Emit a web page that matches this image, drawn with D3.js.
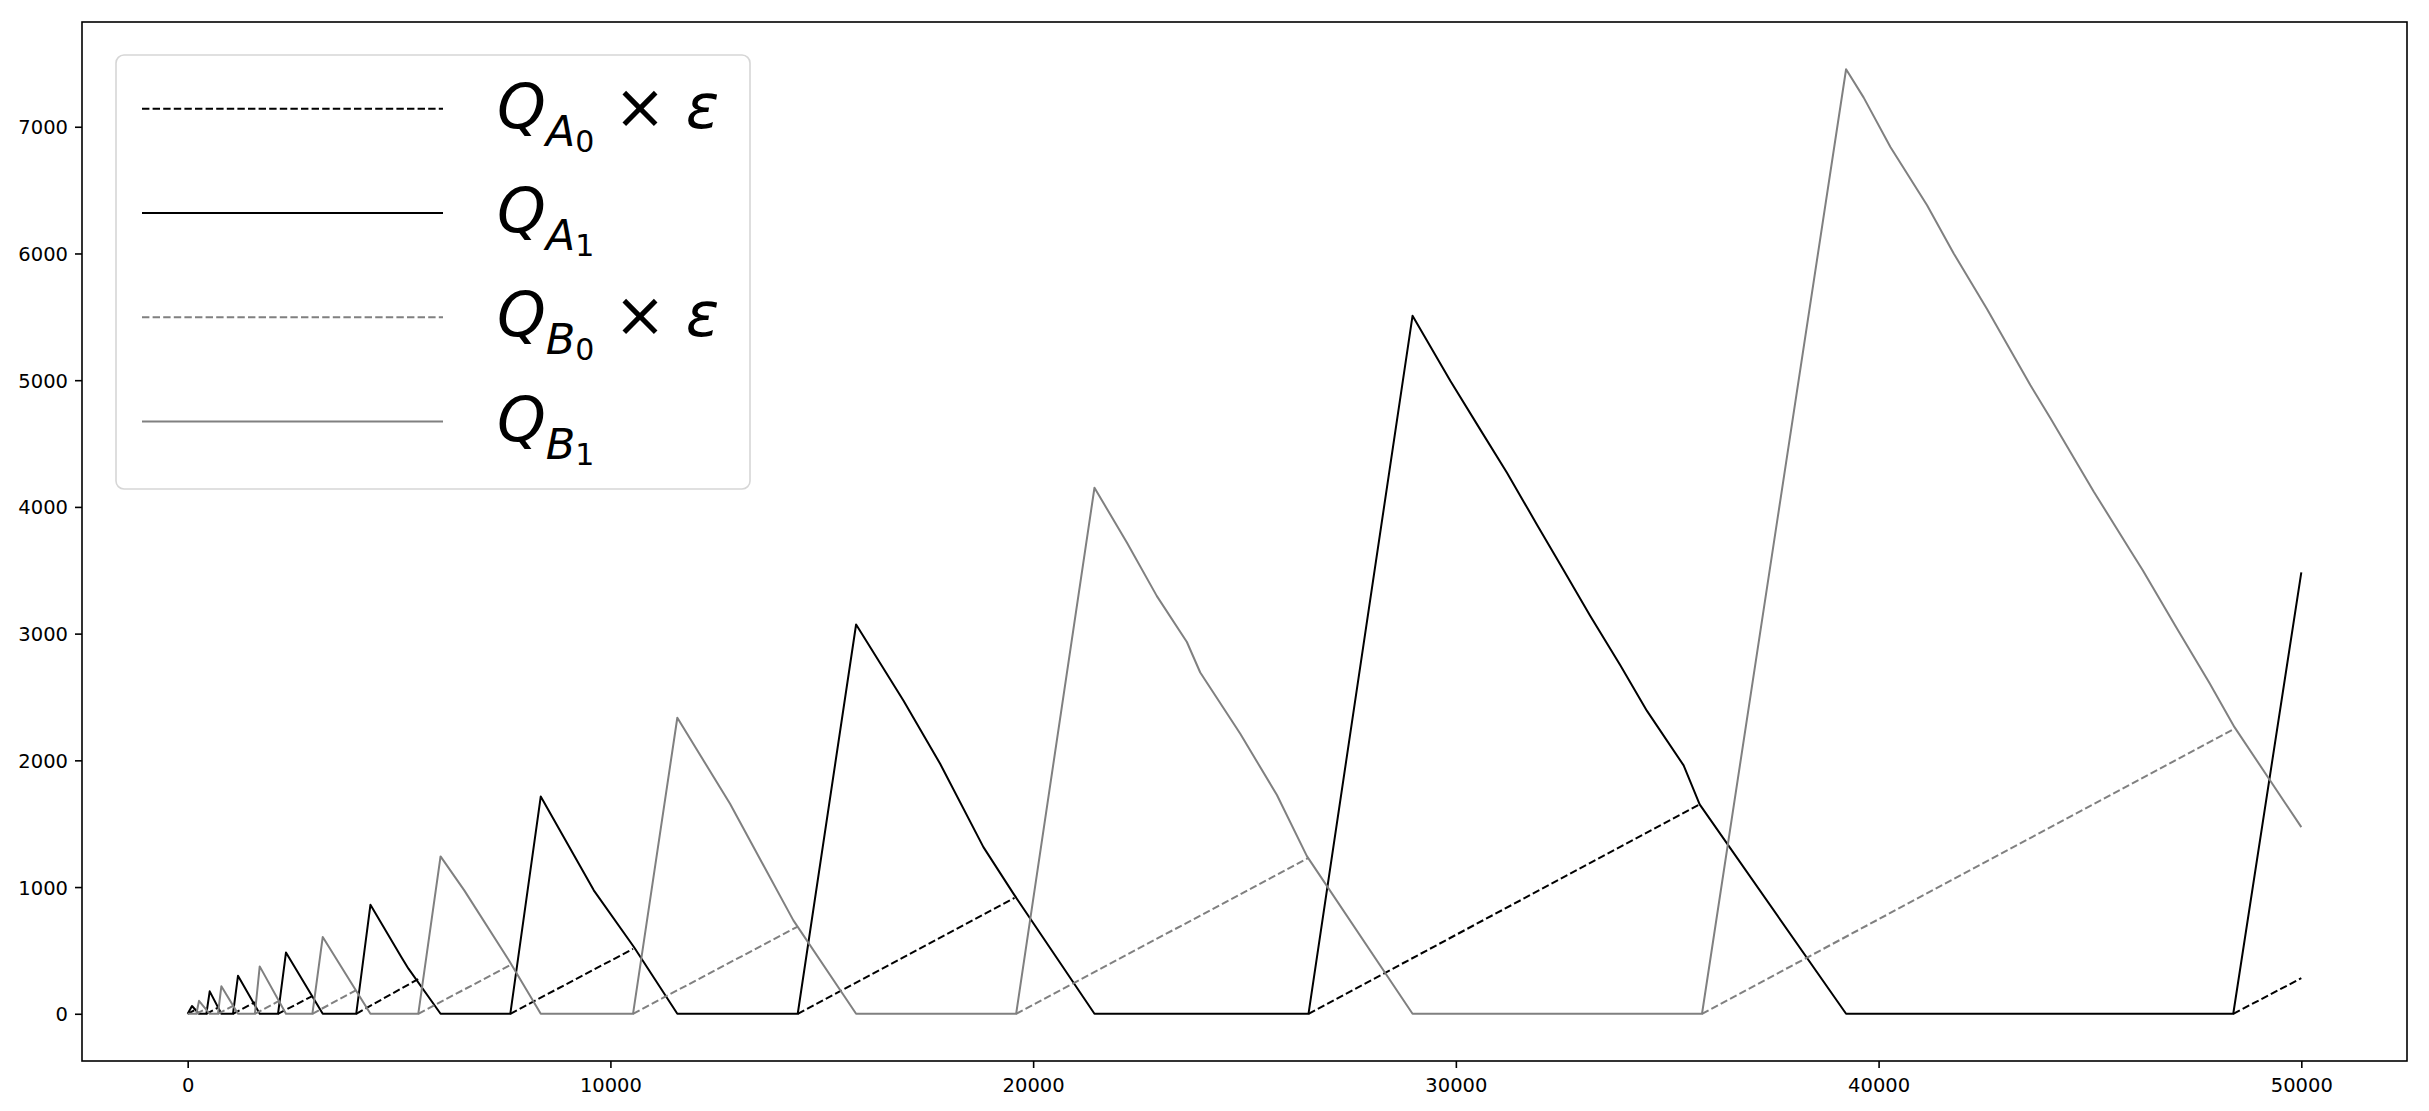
<!DOCTYPE html>
<html>
<head>
<meta charset="utf-8">
<script src="https://cdn.jsdelivr.net/npm/d3@7"></script>
<style>
  body { margin: 0; background: #fff; }
  svg text { font-family: "DejaVu Sans", sans-serif; }
</style>
</head>
<body>
<svg id="chart"></svg>
<script>
// values, [x, y]; null = gap in a dashed series
const qA1 = [
    [0, 0], [102, 61], [268, 0], [442, 0], [521, 177], [797, 0], [1072, 0], [1190, 300],
    [1704, 0], [2137, 0], [2325, 483], [3195, 0], [3987, 0], [4323, 860], [5064, 443],
    [5223, 356], [5982, 0], [7632, 0], [8352, 1714], [9607, 974], [10556, 527], [11583, 0],
    [14431, 0], [15812, 3072], [16931, 2472], [17800, 1973], [18824, 1315], [19534, 948],
    [21451, 0], [26514, 0], [28975, 5508], [29868, 4996], [30578, 4610], [31209, 4270],
    [31919, 3860], [32550, 3500], [33180, 3140], [33890, 2750], [34521, 2390], [35388, 1960],
    [35767, 1652], [39231, 0], [48390, 0], [50000, 3484]
];
const qB1 = [
    [0, 0], [206, 0], [268, 102], [521, 0], [717, 0], [797, 218], [1190, 0], [1590, 0],
    [1704, 374], [2325, 0], [2950, 0], [3195, 606], [4323, 0], [5455, 0], [5982, 1242],
    [6543, 974], [7598, 422], [8352, 0], [10535, 0], [11583, 2336], [12830, 1657],
    [14328, 737], [15812, 0], [19598, 0], [21451, 4151], [22217, 3719], [22927, 3296],
    [23637, 2934], [23953, 2693], [24900, 2210], [25767, 1726], [26476, 1244], [28975, 0],
    [35823, 0], [39231, 7454], [39648, 7230], [40279, 6840], [41147, 6380], [41777, 6000],
    [42568, 5560], [43592, 4960], [44066, 4700], [45091, 4120], [45967, 3650], [46249, 3500],
    [47040, 3050], [47827, 2610], [48419, 2262], [50000, 1473]
];
const qA0eps = [
    [0, 0], [206, 37], null, [442, 0], [717, 49], null, [1072, 0], [1590, 92], null,
    [2137, 0], [2950, 140], null, [3987, 0], [5455, 274], null, [7632, 0], [10535, 512], null,
    [14431, 0], [19560, 915], null, [26514, 0], [35767, 1652], null, [48390, 0], [50000, 281]
];
const qB0eps = [
    [206, 0], [442, 42], null, [717, 0], [1072, 63], null, [1590, 0], [2137, 97], null,
    [2950, 0], [3987, 186], null, [5455, 0], [7632, 384], null, [10535, 0], [14431, 688], null,
    [19598, 0], [26514, 1230], null, [35823, 0], [48419, 2249]
];
const xTicks = [0, 10000, 20000, 30000, 40000, 50000];
const yTicks = [0, 1000, 2000, 3000, 4000, 5000, 6000, 7000];

const W = 2429, H = 1111;
const margin = {left: 82, right: 22, top: 22, bottom: 50};

var svg = d3.select("#chart")
    .attr("width", W)
    .attr("height", H);

svg.append("rect").attr("width", W).attr("height", H).attr("fill", "#fff");

// matplotlib style 5% padding around the data
var allPts = qA1.concat(qB1, qA0eps, qB0eps).filter(d => d);
var xExt = d3.extent(allPts, d => d[0]);
var yExt = d3.extent(allPts, d => d[1]);
var xPad = (xExt[1] - xExt[0]) * 0.05;
var yPad = (yExt[1] - yExt[0]) * 0.05;

var x = d3.scaleLinear()
    .domain([xExt[0] - xPad, xExt[1] + xPad])
    .range([margin.left, W - margin.right]);
var y = d3.scaleLinear()
    .domain([yExt[0] - yPad, yExt[1] + yPad])
    .range([H - margin.bottom, margin.top]);

var line = d3.line()
    .defined(d => d !== null)
    .x(d => x(d[0]))
    .y(d => y(d[1]));

var series = [
    {data: qA0eps, color: "#000000", dash: "7.4,3.2"},
    {data: qA1, color: "#000000", dash: null},
    {data: qB0eps, color: "#808080", dash: "7.4,3.2"},
    {data: qB1, color: "#808080", dash: null}
];

var plot = svg.append("g");
series.forEach(function (s) {
    plot.append("path")
        .attr("d", line(s.data))
        .attr("fill", "none")
        .attr("stroke", s.color)
        .attr("stroke-width", 2)
        .attr("stroke-dasharray", s.dash)
        .attr("stroke-linejoin", "round");
});

// axes
var xAxis = svg.append("g")
    .attr("transform", "translate(0," + (H - margin.bottom) + ")")
    .call(d3.axisBottom(x).tickValues(xTicks).tickSize(7).tickPadding(7).tickFormat(d3.format("d")));
var yAxis = svg.append("g")
    .attr("transform", "translate(" + margin.left + ",0)")
    .call(d3.axisLeft(y).tickValues(yTicks).tickSize(7).tickPadding(7).tickFormat(d3.format("d")));

[xAxis, yAxis].forEach(function (a) {
    a.select(".domain").remove();
    a.selectAll(".tick line").attr("stroke", "#000").attr("stroke-width", 1.6);
    a.selectAll(".tick text")
        .attr("fill", "#000")
        .style("font-size", "19.5px")
        .style("font-family", "'DejaVu Sans'");
});
xAxis.selectAll(".tick text").attr("dy", "0.86em");
yAxis.selectAll(".tick text").attr("dy", "0.36em");

svg.append("rect")
    .attr("x", margin.left)
    .attr("y", margin.top)
    .attr("width", W - margin.left - margin.right)
    .attr("height", H - margin.top - margin.bottom)
    .attr("fill", "none")
    .attr("stroke", "#000")
    .attr("stroke-width", 1.6);

// legend
var legend = svg.append("g");
legend.append("rect")
    .attr("x", 116)
    .attr("y", 55)
    .attr("width", 634)
    .attr("height", 434)
    .attr("rx", 8)
    .attr("fill", "#fff")
    .attr("fill-opacity", 0.8)
    .attr("stroke", "#d6d6d6")
    .attr("stroke-width", 1.6);

var labels = [
    {sub: "A", eps: true},
    {sub: "A", eps: false},
    {sub: "B", eps: true},
    {sub: "B", eps: false}
];
var subIdx = ["0", "1", "0", "1"];

series.forEach(function (s, i) {
    var ly = 108.7 + i * 104.3;
    legend.append("line")
        .attr("x1", 142).attr("x2", 443)
        .attr("y1", ly).attr("y2", ly)
        .attr("stroke", s.color)
        .attr("stroke-width", 2)
        .attr("stroke-dasharray", s.dash);

    var t = legend.append("text")
        .attr("x", 497)
        .attr("y", ly + 19)
        .attr("fill", "#000")
        .style("font-size", "62px");
    t.append("tspan").attr("font-style", "italic").text("Q");
    t.append("tspan").attr("font-style", "italic")
        .attr("dy", 18).style("font-size", "43px").text(labels[i].sub);
    t.append("tspan")
        .attr("dy", 6).style("font-size", "30px").text(subIdx[i]);
    if (labels[i].eps) {
        t.append("tspan").attr("dy", -24).text(" \u00d7 ");
        t.append("tspan").attr("font-style", "italic").text("\u03b5");
    }
});
</script>
</body>
</html>
